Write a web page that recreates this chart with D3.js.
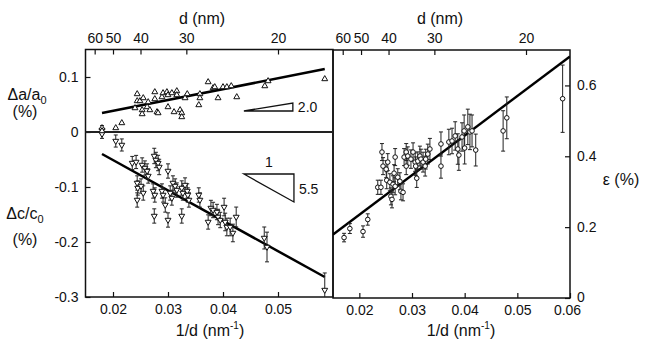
<!DOCTYPE html>
<html><head><meta charset="utf-8">
<script src="https://cdn.jsdelivr.net/npm/d3@7/dist/d3.min.js"></script>
<style>
body{margin:0;background:#fff;}
svg text{font-family:"Liberation Sans",Arial,sans-serif;fill:#111;}
</style></head>
<body><svg id="c" width="647" height="344"></svg>
<script>
// ---- data ----
const dTicks = [60, 50, 40, 30, 20];
const leftXTicks = [0.02, 0.03, 0.04, 0.05];
const rightXTicks = [0.02, 0.03, 0.04, 0.05, 0.06];
const leftYTicks = [0.1, 0, -0.1, -0.2, -0.3];
const rightYTicks = [0, 0.2, 0.4, 0.6];

// Δa/a0 (%) vs 1/d
const aX = [0.0180,0.0180,0.0205,0.0216,0.0244,0.0244,0.0249,0.0255,0.0240,0.0253,0.0253,0.0262,0.0264,0.0267,0.0276,0.0276,0.0280,0.0282,0.0289,0.0291,0.0298,0.0300,0.0300,0.0307,0.0311,0.0316,0.0316,0.0322,0.0325,0.0325,0.0331,0.0335,0.0358,0.0358,0.0356,0.0373,0.0382,0.0385,0.0391,0.0400,0.0407,0.0415,0.0425,0.0476,0.0482,0.0585];
const aY = [0.0073,0.0018,0.0073,0.0164,0.0691,0.0564,0.0564,0.0618,0.0436,0.0400,0.0327,0.0455,0.0545,0.0400,0.0727,0.0600,0.0364,0.0345,0.0636,0.0709,0.0727,0.0673,0.0455,0.0709,0.0364,0.0745,0.0673,0.0400,0.0345,0.0273,0.0618,0.0691,0.0691,0.0618,0.0491,0.0909,0.0800,0.0818,0.0618,0.0818,0.0818,0.0836,0.0636,0.0836,0.0927,0.0964];

// Δc/c0 (%) vs 1/d
const cX = [0.0180,0.0180,0.0205,0.0216,0.0235,0.0242,0.0244,0.0244,0.0245,0.0251,0.0255,0.0253,0.0258,0.0262,0.0264,0.0275,0.0278,0.0282,0.0284,0.0273,0.0276,0.0275,0.0289,0.0291,0.0295,0.0300,0.0304,0.0307,0.0300,0.0309,0.0313,0.0316,0.0325,0.0327,0.0325,0.0331,0.0335,0.0336,0.0338,0.0356,0.0358,0.0373,0.0378,0.0382,0.0389,0.0391,0.0395,0.0402,0.0404,0.0407,0.0413,0.0418,0.0424,0.0475,0.0480,0.0585];
const cY = [0.0036,-0.0036,-0.0164,-0.0236,-0.0564,-0.0545,-0.0927,-0.1236,-0.1018,-0.0982,-0.1109,-0.0600,-0.0655,-0.0709,-0.0800,-0.0436,-0.0509,-0.0564,-0.0636,-0.1073,-0.1145,-0.1527,-0.1073,-0.1145,-0.1327,-0.0709,-0.1109,-0.1200,-0.1600,-0.0927,-0.0982,-0.1055,-0.1018,-0.1109,-0.1527,-0.0964,-0.1073,-0.1145,-0.1236,-0.1145,-0.1236,-0.1636,-0.1382,-0.1418,-0.1455,-0.1545,-0.1600,-0.1364,-0.1636,-0.1727,-0.1727,-0.1836,-0.1545,-0.1927,-0.2091,-0.2873];
const cErr = [0.008,0.008,0.011,0.011,0.012,0.012,0.013,0.013,0.013,0.013,0.013,0.013,0.013,0.013,0.013,0.014,0.014,0.014,0.014,0.013,0.013,0.013,0.013,0.013,0.013,0.013,0.013,0.013,0.013,0.013,0.013,0.013,0.013,0.013,0.013,0.013,0.013,0.013,0.013,0.013,0.013,0.013,0.014,0.014,0.014,0.014,0.014,0.016,0.016,0.016,0.016,0.016,0.018,0.020,0.027,0.031];

// ε (%) vs 1/d
const eX = [0.0171,0.0182,0.0207,0.0216,0.0235,0.0241,0.0243,0.0245,0.0251,0.0254,0.0252,0.0258,0.0260,0.0262,0.0264,0.0268,0.0268,0.0266,0.0273,0.0277,0.0279,0.0283,0.0285,0.0289,0.0289,0.0292,0.0298,0.0302,0.0306,0.0307,0.0311,0.0309,0.0315,0.0317,0.0321,0.0325,0.0326,0.0330,0.0334,0.0355,0.0355,0.0370,0.0376,0.0382,0.0387,0.0389,0.0395,0.0399,0.0400,0.0406,0.0410,0.0414,0.0421,0.0473,0.0480,0.0586];
const eY = [0.1705,0.1960,0.1875,0.2216,0.3125,0.3125,0.4119,0.3722,0.3636,0.3835,0.3324,0.3267,0.2869,0.2784,0.3210,0.3153,0.3977,0.3523,0.3409,0.3295,0.3011,0.2983,0.3977,0.4119,0.3722,0.4006,0.3920,0.4119,0.3835,0.3722,0.3864,0.3381,0.4006,0.3920,0.3835,0.3722,0.3920,0.4063,0.4205,0.4347,0.3722,0.4403,0.4432,0.4574,0.4205,0.4034,0.4545,0.4716,0.4233,0.4830,0.4688,0.4716,0.4176,0.4716,0.5085,0.5625];
const eErr = [0.012,0.014,0.016,0.016,0.020,0.020,0.024,0.024,0.024,0.024,0.024,0.024,0.024,0.024,0.024,0.024,0.024,0.024,0.024,0.024,0.024,0.024,0.024,0.024,0.024,0.026,0.026,0.026,0.026,0.026,0.026,0.026,0.028,0.028,0.028,0.028,0.028,0.028,0.030,0.034,0.034,0.036,0.036,0.040,0.043,0.043,0.040,0.045,0.045,0.050,0.050,0.045,0.045,0.057,0.059,0.095];

// fitted lines and slope triangles (data coords)
const aFitX = [0.0180, 0.0585], aFitY = [0.0345, 0.1145];
const cFitX = [0.0180, 0.0585], cFitY = [-0.0400, -0.2636];
const eFitX = [0.0150, 0.0600], eFitY = [0.179, 0.682];
const triAX = [0.0438, 0.0527, 0.0527], triAY = [0.0382, 0.0382, 0.0527];
const triCX = [0.0438, 0.0529, 0.0529], triCY = [-0.0764, -0.0764, -0.1273];

// ---- scales ----
const svg = d3.select("#c");
const L = {x0: 85.5, x1: 333, y0: 49.5, y1: 297};
const R = {x0: 333, x1: 570, y0: 50, y1: 298};
const xL = d3.scaleLinear().domain([0.015, 0.06]).range([L.x0, L.x1]);
const yL = d3.scaleLinear().domain([-0.3, 0.15]).range([L.y1, L.y0]);
const xR = d3.scaleLinear().domain([0.015, 0.06]).range([R.x0, R.x1]);
const xRtop = d3.scaleLinear().domain([0.0149, 0.058]).range([R.x0, R.x1]);
const yR = d3.scaleLinear().domain([0, 0.7]).range([R.y1, R.y0]);

const fmt = v => v === 0 ? "0" : String(+v.toFixed(3));

const defs = svg.append("defs");
defs.append("clipPath").attr("id","clipL").append("rect").attr("x",L.x0).attr("y",L.y0).attr("width",L.x1-L.x0).attr("height",L.y1-L.y0);
defs.append("clipPath").attr("id","clipR").append("rect").attr("x",R.x0).attr("y",R.y0).attr("width",R.x1-R.x0).attr("height",R.y1-R.y0);

function styleAxis(g){
  g.select(".domain").remove();
  g.selectAll(".tick line").attr("stroke","#111").attr("stroke-width",1.2);
  g.selectAll(".tick text").attr("font-size",14).attr("fill","#111")
   .attr("font-family","'Liberation Sans',Arial,sans-serif");
}

// ---- left panel axes ----
svg.append("g").attr("transform",`translate(${L.x0},0)`)
  .call(d3.axisLeft(yL).tickValues(leftYTicks).tickFormat(fmt).tickSize(-5).tickPadding(7)).call(styleAxis);
svg.append("g").attr("transform",`translate(0,${L.y1})`)
  .call(d3.axisBottom(xL).tickValues(leftXTicks).tickFormat(fmt).tickSize(-5).tickPadding(7)).call(styleAxis);
svg.append("g").attr("transform",`translate(0,${L.y0})`)
  .call(d3.axisTop(xL).tickValues(dTicks.map(d=>1/d)).tickFormat((v,i)=>dTicks[i]).tickSize(-5).tickPadding(7)).call(styleAxis);

// ---- right panel axes ----
svg.append("g").attr("transform",`translate(${R.x1},0)`)
  .call(d3.axisRight(yR).tickValues(rightYTicks).tickFormat(fmt).tickSize(-5).tickPadding(7)).call(styleAxis)
  .call(g=>g.selectAll(".tick text").filter(d=>d===0).attr("dy","0.22em"));
svg.append("g").attr("transform",`translate(0,${R.y1})`)
  .call(d3.axisBottom(xR).tickValues(rightXTicks).tickFormat(fmt).tickSize(-5).tickPadding(7)).call(styleAxis)
  .call(g=>g.selectAll(".tick text").filter(d=>d===0.06).attr("dx","-3"));
svg.append("g").attr("transform",`translate(0,${R.y0})`)
  .call(d3.axisTop(xRtop).tickValues(dTicks.map(d=>1/d)).tickFormat((v,i)=>dTicks[i]).tickSize(-5).tickPadding(7)).call(styleAxis);

// frames
svg.append("rect").attr("x",L.x0).attr("y",L.y0).attr("width",L.x1-L.x0).attr("height",L.y1-L.y0)
  .attr("fill","none").attr("stroke","#111").attr("stroke-width",1.5);
svg.append("rect").attr("x",R.x0).attr("y",R.y0).attr("width",R.x1-R.x0).attr("height",R.y1-R.y0)
  .attr("fill","none").attr("stroke","#111").attr("stroke-width",1.5);
// zero line in left panel
svg.append("line").attr("x1",L.x0).attr("x2",L.x1).attr("y1",yL(0)).attr("y2",yL(0))
  .attr("stroke","#222").attr("stroke-width",2);

// ---- left panel marks ----
const gL = svg.append("g").attr("clip-path","url(#clipL)");
const line = d3.line();
gL.append("path").attr("d", line(aFitX.map((x,i)=>[xL(x), yL(aFitY[i])]))).attr("stroke","#000").attr("stroke-width",2.5).attr("fill","none");
gL.append("path").attr("d", line(cFitX.map((x,i)=>[xL(x), yL(cFitY[i])]))).attr("stroke","#000").attr("stroke-width",2.5).attr("fill","none");

// error bars Δc
const cData = cX.map((x,i)=>({x, y:cY[i], e:cErr[i]}));
const eb = gL.append("g").attr("stroke","#222").attr("stroke-width",1);
cData.forEach(d=>{
  const px = xL(d.x), yt = yL(d.y + d.e), yb = yL(d.y - d.e);
  eb.append("line").attr("x1",px).attr("x2",px).attr("y1",yt).attr("y2",yb);
  eb.append("line").attr("x1",px-2).attr("x2",px+2).attr("y1",yt).attr("y2",yt);
  eb.append("line").attr("x1",px-2).attr("x2",px+2).attr("y1",yb).attr("y2",yb);
});
const tri = d3.symbol().type(d3.symbolTriangle).size(15);
gL.selectAll(".cpt").data(cData).join("path").attr("class","cpt")
  .attr("d", tri).attr("transform", d=>`translate(${xL(d.x)},${yL(d.y)}) rotate(180)`)
  .attr("fill","#fff").attr("stroke","#111").attr("stroke-width",1);
const aData = aX.map((x,i)=>({x, y:aY[i]}));
gL.selectAll(".apt").data(aData).join("path").attr("class","apt")
  .attr("d", tri).attr("transform", d=>`translate(${xL(d.x)},${yL(d.y)})`)
  .attr("fill","#fff").attr("stroke","#111").attr("stroke-width",1);

// slope triangles
const closed = d3.line().curve(d3.curveLinearClosed);
svg.append("path").attr("d", closed(triAX.map((x,i)=>[xL(x), yL(triAY[i])]))).attr("fill","none").attr("stroke","#111").attr("stroke-width",1.3);
svg.append("path").attr("d", closed(triCX.map((x,i)=>[xL(x), yL(triCY[i])]))).attr("fill","none").attr("stroke","#111").attr("stroke-width",1.3);
svg.append("text").attr("x",xL(triAX[1])+5).attr("y",yL(triAY[0])+1).attr("font-size",14).text("2.0");
svg.append("text").attr("x",xL(triCX[1])+5).attr("y",yL((triCY[0]+triCY[2])/2)+6).attr("font-size",14).text("5.5");
svg.append("text").attr("x",(xL(triCX[0])+xL(triCX[1]))/2).attr("y",yL(triCY[0])-7).attr("text-anchor","middle").attr("font-size",14).text("1");

// ---- right panel marks ----
const gR = svg.append("g").attr("clip-path","url(#clipR)");
gR.append("path").attr("d", line(eFitX.map((x,i)=>[xR(x), yR(eFitY[i])]))).attr("stroke","#000").attr("stroke-width",2.5).attr("fill","none");
const eData = eX.map((x,i)=>({x, y:eY[i], e:eErr[i]}));
const ebR = gR.append("g").attr("stroke","#222").attr("stroke-width",1);
eData.forEach(d=>{
  const px = xR(d.x), yt = yR(d.y + d.e), yb = yR(d.y - d.e);
  ebR.append("line").attr("x1",px).attr("x2",px).attr("y1",yt).attr("y2",yb);
  ebR.append("line").attr("x1",px-2).attr("x2",px+2).attr("y1",yt).attr("y2",yt);
  ebR.append("line").attr("x1",px-2).attr("x2",px+2).attr("y1",yb).attr("y2",yb);
});
gR.selectAll(".ept").data(eData).join("circle").attr("class","ept")
  .attr("cx", d=>xR(d.x)).attr("cy", d=>yR(d.y)).attr("r",2.3)
  .attr("fill","#fff").attr("stroke","#111").attr("stroke-width",1);

// ---- titles ----
svg.append("text").attr("x",202).attr("y",24).attr("text-anchor","middle").attr("font-size",16).text("d (nm)");
svg.append("text").attr("x",440).attr("y",24).attr("text-anchor","middle").attr("font-size",16).text("d (nm)");

function xTitle(x){
  const t = svg.append("text").attr("x",x).attr("y",336).attr("text-anchor","middle").attr("font-size",16);
  t.append("tspan").text("1/d (nm");
  t.append("tspan").attr("dy",-7).attr("font-size",10).text("-1");
  t.append("tspan").attr("dy",7).text(")");
}
xTitle(210); xTitle(461);

function yTitle(x, y, main, sub){
  const t = svg.append("text").attr("x",x).attr("y",y).attr("text-anchor","middle").attr("font-size",16);
  t.append("tspan").text(main);
  t.append("tspan").attr("dy",4).attr("font-size",11).text(sub);
}
yTitle(27, 100, "Δa/a", "0");
svg.append("text").attr("x",25).attr("y",117).attr("text-anchor","middle").attr("font-size",16).text("(%)");
yTitle(25, 219, "Δc/c", "0");
svg.append("text").attr("x",25).attr("y",245).attr("text-anchor","middle").attr("font-size",16).text("(%)");
svg.append("text").attr("x",621).attr("y",185).attr("text-anchor","middle").attr("font-size",16).text("ε (%)");
</script>
</body></html>
